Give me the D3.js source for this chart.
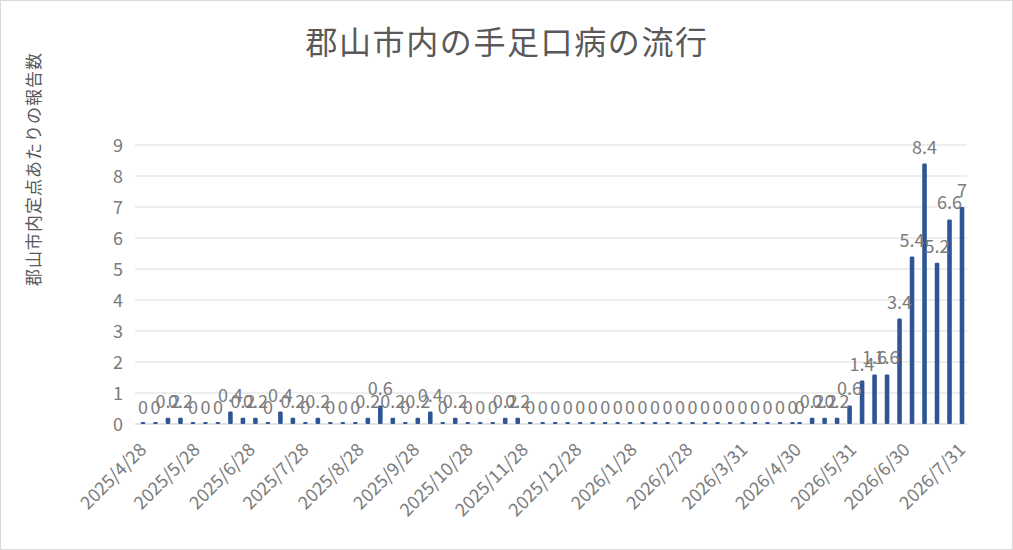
<!DOCTYPE html>
<html>
<head>
<meta charset="utf-8">
<script src="https://cdn.jsdelivr.net/npm/d3@7"></script>
<style>
    body { margin: 0; background: #fff; }
    text { font-family: "Noto Sans CJK JP", "Noto Sans", sans-serif; }
</style>
</head>
<body>
<div id="chart"></div>
<script>
// weekly report dates (Mondays until late April 2026, then Fridays)
const weekDates = [
    "2025/4/28", "2025/5/5", "2025/5/12", "2025/5/19", "2025/5/26",
    "2025/6/2", "2025/6/9", "2025/6/16", "2025/6/23", "2025/6/30",
    "2025/7/7", "2025/7/14", "2025/7/21", "2025/7/28",
    "2025/8/4", "2025/8/11", "2025/8/18", "2025/8/25",
    "2025/9/1", "2025/9/8", "2025/9/15", "2025/9/22", "2025/9/29",
    "2025/10/6", "2025/10/13", "2025/10/20", "2025/10/27",
    "2025/11/3", "2025/11/10", "2025/11/17", "2025/11/24",
    "2025/12/1", "2025/12/8", "2025/12/15", "2025/12/22", "2025/12/29",
    "2026/1/5", "2026/1/12", "2026/1/19", "2026/1/26",
    "2026/2/2", "2026/2/9", "2026/2/16", "2026/2/23",
    "2026/3/2", "2026/3/9", "2026/3/16", "2026/3/23", "2026/3/30",
    "2026/4/6", "2026/4/13", "2026/4/20", "2026/4/27",
    "2026/5/1", "2026/5/8", "2026/5/15", "2026/5/22", "2026/5/29",
    "2026/6/5", "2026/6/12", "2026/6/19", "2026/6/26",
    "2026/7/3", "2026/7/10", "2026/7/17", "2026/7/24", "2026/7/31"
];

// reports per sentinel site
const reports = [
    0, 0, 0.2, 0.2, 0,
    0, 0, 0.4, 0.2, 0.2,
    0, 0.4, 0.2, 0,
    0.2, 0, 0, 0,
    0.2, 0.6, 0.2, 0, 0.2,
    0.4, 0, 0.2, 0,
    0, 0, 0.2, 0.2,
    0, 0, 0, 0, 0,
    0, 0, 0, 0,
    0, 0, 0, 0,
    0, 0, 0, 0, 0,
    0, 0, 0, 0,
    0, 0.2, 0.2, 0.2, 0.6,
    1.4, 1.6, 1.6, 3.4,
    5.4, 8.4, 5.2, 6.6, 7
];

const xTickLabels = [
    "2025/4/28", "2025/5/28", "2025/6/28", "2025/7/28", "2025/8/28",
    "2025/9/28", "2025/10/28", "2025/11/28", "2025/12/28", "2026/1/28",
    "2026/2/28", "2026/3/31", "2026/4/30", "2026/5/31", "2026/6/30", "2026/7/31"
];
const yTicks = [0, 1, 2, 3, 4, 5, 6, 7, 8, 9];

const chartTitle = "郡山市内の手足口病の流行";
const yTitle = "郡山市内定点あたりの報告数";

function graph(id) {
    let width = 1013, height = 550;
    let textColour = "#7b7b7b";
    let barColour = "#2f5597";
    let parseDate = d3.timeParse("%Y/%-m/%-d");

    let data = weekDates.map((d, i) => ({ date: parseDate(d), value: reports[i] }));

    let svg = d3.select(id)
        .append("svg")
        .attr("width", width)
        .attr("height", height);

    // outer border
    svg.append("rect")
        .attr("x", 0.5).attr("y", 0.5)
        .attr("width", width - 1).attr("height", height - 1)
        .attr("fill", "#fff")
        .attr("stroke", "#d9d9d9");

    let x = d3.scaleTime()
        .domain([parseDate("2025/4/28"), parseDate("2026/7/31")])
        .range([143, 962]);

    let y = d3.scaleLinear()
        .domain([0, 9])
        .range([424, 145]);

    // horizontal gridlines
    svg.append("g")
        .selectAll("line")
        .data(yTicks)
        .enter()
        .append("line")
        .attr("x1", 135).attr("x2", 967)
        .attr("y1", (d) => y(d)).attr("y2", (d) => y(d))
        .attr("stroke", (d) => d === 0 ? "#d9d9d9" : "#e8e8e8")
        .attr("stroke-width", 1.5);

    // y axis labels
    let yAxis = d3.axisLeft(y).tickValues(yTicks).tickSize(0).tickPadding(0);
    let gy = svg.append("g")
        .attr("transform", "translate(123,0)")
        .call(yAxis);
    gy.select(".domain").remove();
    gy.selectAll("text")
        .attr("fill", textColour)
        .style("font-size", "18px")
        .attr("dy", "0.35em");

    // x axis labels, rotated
    let xAxis = d3.axisBottom(x)
        .tickValues(xTickLabels.map(parseDate))
        .tickSize(0)
        .tickFormat(d3.timeFormat("%Y/%-m/%-d"));
    let gx = svg.append("g")
        .attr("transform", "translate(0,424)")
        .call(xAxis);
    gx.select(".domain").remove();
    gx.selectAll("text")
        .attr("fill", textColour)
        .style("font-size", "18px")
        .attr("text-anchor", "end")
        .attr("x", 0).attr("y", 0).attr("dy", 0)
        .attr("transform", "translate(4,27) rotate(-45)");

    // bars
    svg.append("g")
        .selectAll("rect")
        .data(data)
        .enter()
        .append("rect")
        .attr("x", (d) => x(d.date) - 2.3)
        .attr("width", 4.6)
        .attr("y", (d) => Math.min(y(d.value), y(0) - 2))
        .attr("height", (d) => Math.max(y(0) - y(d.value), 2))
        .attr("rx", 1.3)
        .attr("fill", barColour);

    // data labels
    svg.append("g")
        .selectAll("text")
        .data(data)
        .enter()
        .append("text")
        .attr("x", (d) => x(d.date))
        .attr("y", (d) => y(d.value) - 10)
        .attr("text-anchor", "middle")
        .attr("fill", textColour)
        .style("font-size", "18px")
        .text((d) => d.value);

    // titles
    svg.append("text")
        .attr("x", 507).attr("y", 54)
        .attr("text-anchor", "middle")
        .attr("fill", "#595959")
        .style("font-size", "32px")
        .style("letter-spacing", "1.6px")
        .text(chartTitle);

    svg.append("text")
        .attr("transform", "translate(40,169) rotate(-90)")
        .attr("text-anchor", "middle")
        .attr("fill", "#595959")
        .style("font-size", "17px")
        .style("letter-spacing", "1px")
        .text(yTitle);
}

graph("#chart");
</script>
</body>
</html>
